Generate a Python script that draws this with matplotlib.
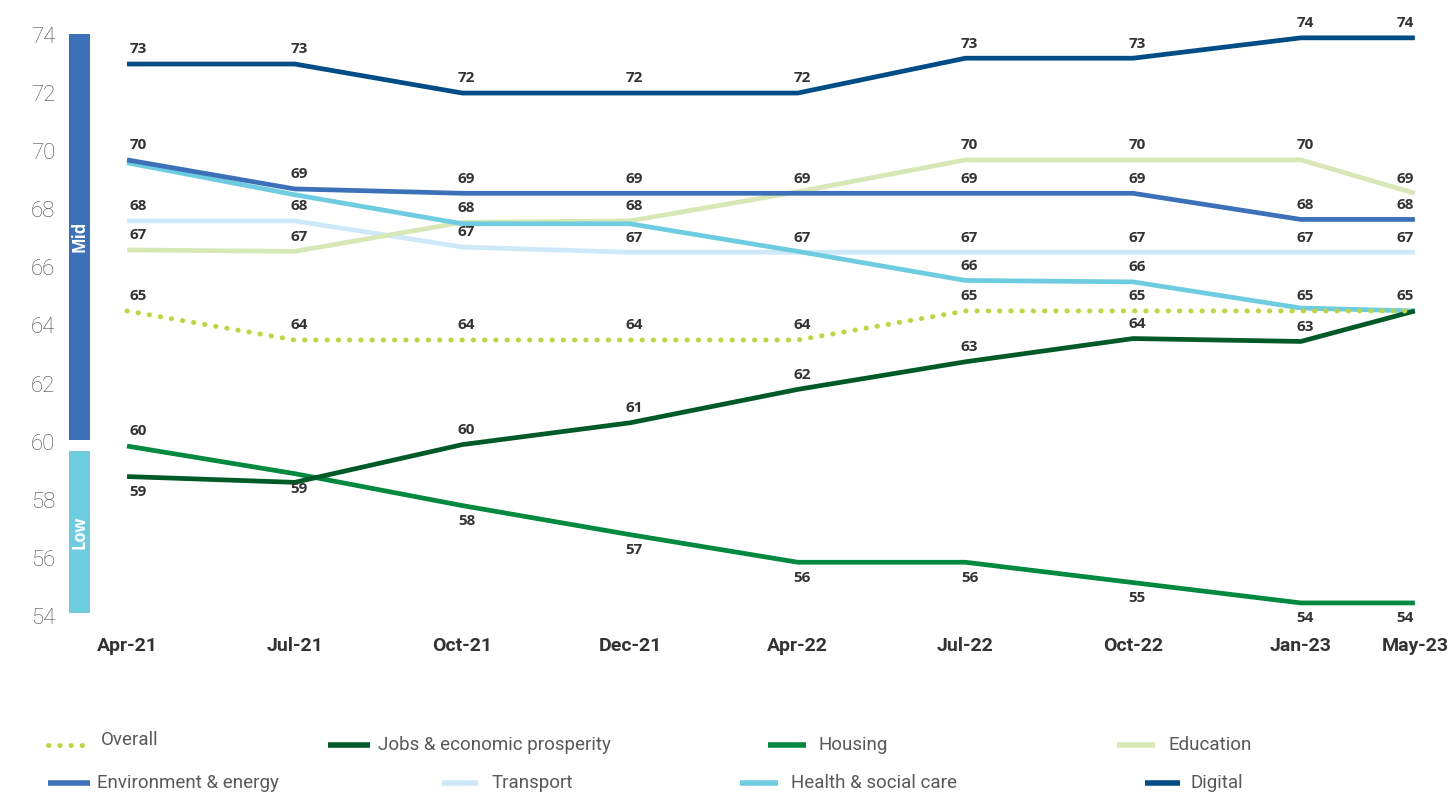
import math
import numpy as np
import matplotlib
matplotlib.use("Agg")
import matplotlib.pyplot as plt
from matplotlib.lines import Line2D
from matplotlib.patches import Rectangle
import matplotlib.transforms as mtransforms

# ---- data -------------------------------------------------------------
periods = ["Apr-21", "Jul-21", "Oct-21", "Dec-21", "Apr-22",
           "Jul-22", "Oct-22", "Jan-23", "May-23"]

overall     = [64.5, 63.5, 63.5, 63.5, 63.5, 64.5, 64.5, 64.5, 64.5]
jobs        = [58.8, 58.6, 59.9, 60.65, 61.8, 62.75, 63.55, 63.45, 64.5]
housing     = [59.85, 58.9, 57.8, 56.8, 55.85, 55.85, 55.15, 54.45, 54.45]
education   = [66.6, 66.55, 67.55, 67.6, 68.6, 69.7, 69.7, 69.7, 68.55]
environment = [69.7, 68.7, 68.55, 68.55, 68.55, 68.55, 68.55, 67.65, 67.65]
transport   = [67.6, 67.6, 66.7, 66.52, 66.52, 66.52, 66.52, 66.52, 66.52]
health      = [69.6, 68.5, 67.5, 67.5, 66.55, 65.55, 65.5, 64.6, 64.5]
digital     = [73.0, 73.0, 72.0, 72.0, 72.0, 73.2, 73.2, 73.9, 73.9]

y_ticks = list(range(54, 75, 2))
bands = [("Mid", 60.06, 74.05), ("Low", 54.1, 59.68)]

# ---- styling ----------------------------------------------------------
W, H, DPI = 1455, 793, 100
LABEL_DARK = "#333333"
TICK_GREY = "#4a4a4a"
LEGEND_GREY = "#595959"

# x positions of the periods (last interval is shorter)
x_pos = np.r_[np.arange(8, dtype=float), 7.68]

# name, values, colour, dotted, label placement per point (a=above, b=below, -=none)
series = [
    ("Transport", transport, "#CDE8F9", False, "aaaaaaaaa"),
    ("Education", education, "#D7E7B6", False, "aaaa-aaaa"),
    ("Health & social care", health, "#6ECCE0", False, "-----aa--"),
    ("Environment & energy", environment, "#3C70B8", False, "aaaaaaaaa"),
    ("Housing", housing, "#00893F", False, "abbbbbbbb"),
    ("Jobs & economic prosperity", jobs, "#005A28", False, "b-aaaaaa-"),
    ("Digital", digital, "#004C86", False, "aaaaaaaaa"),
    ("Overall", overall, "#BED63C", True, "aaaaaaaaa"),
]
colors = {name: c for name, _, c, _, _ in series}
band_colors = {"Mid": "#3C70B8", "Low": "#6ECCE0"}

fig = plt.figure(figsize=(W / DPI, H / DPI), dpi=DPI)
fig.patch.set_facecolor("white")

ax_left, ax_right = 69 / W, 1440 / W
ax_top, ax_bottom = 1 - 33.5 / H, 1 - 616 / H
ax = fig.add_axes([ax_left, ax_bottom, ax_right - ax_left, ax_top - ax_bottom])

ax.set_ylim(54, 74.05)
ax.set_xlim(-0.346, 7.83)

for name, vals, col, dotted, sides in series:
    if dotted:
        ax.plot(x_pos, vals, color=col, lw=3.6, ls=(0, (0.05, 2.2)),
                dash_capstyle="round", zorder=5)
    else:
        ax.plot(x_pos, vals, color=col, lw=3.4, solid_joinstyle="round",
                solid_capstyle="butt", zorder=3)
    for i, (xv, v) in enumerate(zip(x_pos, vals)):
        side = sides[i]
        if side == "-":
            continue
        dx = 8 if i == 0 else (-7 if i == len(vals) - 1 else 3)
        dy = 10.5 if side == "a" else -11
        ax.annotate(f"{math.floor(v + 0.5):d}", (xv, v),
                    xytext=(dx, dy), textcoords="offset points",
                    ha="center", va="center", fontsize=11,
                    fontweight="bold", family="Open Sans",
                    color=LABEL_DARK, zorder=6)

# Mid / Low bands along the left edge
trans = mtransforms.blended_transform_factory(ax.transAxes, ax.transData)
band_w = 21 / (W * (ax_right - ax_left))
for name, lo, hi in bands:
    ax.add_patch(Rectangle((0, lo), band_w, hi - lo, transform=trans,
                           facecolor=band_colors[name], edgecolor="none",
                           clip_on=False, zorder=2))
    ax.text(band_w / 2, (lo + hi) / 2, name, transform=trans, rotation=90,
            ha="center", va="center", color="white", fontsize=12,
            fontweight="bold", family="Open Sans", zorder=3)

# axes cosmetics
for sp in ax.spines.values():
    sp.set_visible(False)
ax.set_yticks(y_ticks)
ax.set_yticklabels([str(t) for t in y_ticks], fontsize=16, color=TICK_GREY,
                   family="Roboto", fontweight="light")
ax.set_xticks(x_pos)
ax.set_xticklabels(periods, fontsize=14, color=LABEL_DARK,
                   family="Roboto", fontweight="bold")
ax.tick_params(axis="y", length=0, pad=10)
ax.tick_params(axis="x", length=0, pad=15)

# legend, laid out in two rows
legend_rows = [
    [("Overall", 48, 92, 101, 740, 745), ("Jobs & economic prosperity", 328, 370, 378, 745, 745),
     ("Housing", 768, 806, 818, 745, 745), ("Education", 1117, 1155, 1168, 745, 745)],
    [("Environment & energy", 48, 90, 97, 783, 783), ("Transport", 442, 478, 492, 783, 783),
     ("Health & social care", 740, 778, 791, 783, 783), ("Digital", 1145, 1180, 1191, 783, 783)],
]
for row in legend_rows:
    for name, x0, x1, xt, yt, ym in row:
        col = colors[name]
        if name == "Overall":
            fig.add_artist(Line2D([x0 / W, x1 / W], [1 - ym / H] * 2, color=col,
                                  lw=3.6, ls=(0, (0.05, 2.2)), dash_capstyle="round"))
        else:
            fig.add_artist(Line2D([x0 / W, x1 / W], [1 - ym / H] * 2, color=col,
                                  lw=4, solid_capstyle="butt"))
        fig.text(xt / W, 1 - yt / H, name, ha="left", va="center", fontsize=13.5,
                 color=LEGEND_GREY, family="Roboto", fontweight="normal")

fig.savefig("out.png", dpi=DPI, facecolor="white")
